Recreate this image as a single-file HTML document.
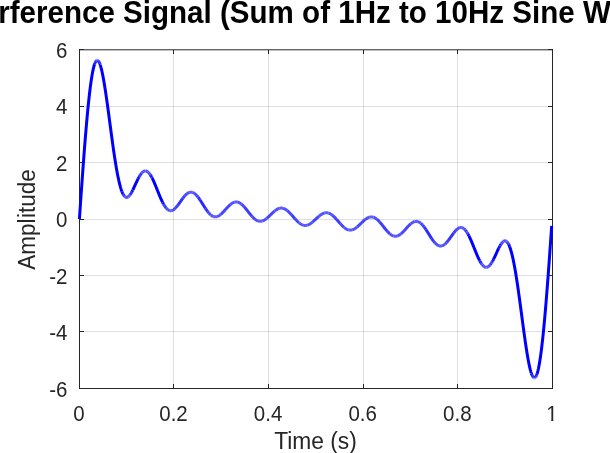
<!DOCTYPE html>
<html><head><meta charset="utf-8"><title>plot</title>
<style>
html,body{margin:0;padding:0;background:#fff;overflow:hidden}
svg{display:block}
text{font-family:"Liberation Sans",sans-serif;fill:#262626}
</style></head><body>
<svg width="610" height="453" viewBox="0 0 610 453">
<rect width="610" height="453" fill="#fff"/>
<g stroke="#262626" stroke-opacity="0.15" stroke-width="1" shape-rendering="crispEdges"><line x1="173.5" y1="49.5" x2="173.5" y2="388.5"/><line x1="268.5" y1="49.5" x2="268.5" y2="388.5"/><line x1="363.5" y1="49.5" x2="363.5" y2="388.5"/><line x1="457.5" y1="49.5" x2="457.5" y2="388.5"/><line x1="79.5" y1="106.5" x2="552.5" y2="106.5"/><line x1="79.5" y1="162.5" x2="552.5" y2="162.5"/><line x1="79.5" y1="219.5" x2="552.5" y2="219.5"/><line x1="79.5" y1="275.5" x2="552.5" y2="275.5"/><line x1="79.5" y1="331.5" x2="552.5" y2="331.5"/></g>
<g stroke="#262626" stroke-width="1" shape-rendering="crispEdges"><line x1="79.5" y1="388.5" x2="79.5" y2="383.8"/><line x1="79.5" y1="49.5" x2="79.5" y2="54.2"/><line x1="173.5" y1="388.5" x2="173.5" y2="383.8"/><line x1="173.5" y1="49.5" x2="173.5" y2="54.2"/><line x1="268.5" y1="388.5" x2="268.5" y2="383.8"/><line x1="268.5" y1="49.5" x2="268.5" y2="54.2"/><line x1="363.5" y1="388.5" x2="363.5" y2="383.8"/><line x1="363.5" y1="49.5" x2="363.5" y2="54.2"/><line x1="457.5" y1="388.5" x2="457.5" y2="383.8"/><line x1="457.5" y1="49.5" x2="457.5" y2="54.2"/><line x1="552.5" y1="388.5" x2="552.5" y2="383.8"/><line x1="552.5" y1="49.5" x2="552.5" y2="54.2"/><line x1="79.5" y1="49.5" x2="84.2" y2="49.5"/><line x1="552.5" y1="49.5" x2="547.8" y2="49.5"/><line x1="79.5" y1="106.5" x2="84.2" y2="106.5"/><line x1="552.5" y1="106.5" x2="547.8" y2="106.5"/><line x1="79.5" y1="162.5" x2="84.2" y2="162.5"/><line x1="552.5" y1="162.5" x2="547.8" y2="162.5"/><line x1="79.5" y1="219.5" x2="84.2" y2="219.5"/><line x1="552.5" y1="219.5" x2="547.8" y2="219.5"/><line x1="79.5" y1="275.5" x2="84.2" y2="275.5"/><line x1="552.5" y1="275.5" x2="547.8" y2="275.5"/><line x1="79.5" y1="331.5" x2="84.2" y2="331.5"/><line x1="552.5" y1="331.5" x2="547.8" y2="331.5"/><line x1="79.5" y1="388.5" x2="84.2" y2="388.5"/><line x1="552.5" y1="388.5" x2="547.8" y2="388.5"/><path d="M79.5 49.0V388.5H552.5V49.0" fill="none"/></g>
<line x1="79.0" y1="49.8" x2="553.0" y2="49.8" stroke="#262626" stroke-width="1"/>
<g fill="none" stroke="#0000ff" stroke-width="3" stroke-linejoin="round" stroke-linecap="butt"><polyline points="79.40,219.10 79.87,212.28 80.35,205.47 80.82,198.70 81.29,191.96 81.76,185.27 82.24,178.65 82.71,172.11 83.18,165.66 83.65,159.31 84.13,153.08 84.60,146.98 85.07,141.01 85.55,135.20 86.02,129.54 86.49,124.06 86.96,118.76 87.44,113.64 87.91,108.73 88.38,104.02 88.86,99.53 89.33,95.25 89.80,91.21 90.27,87.40 90.75,83.82 91.22,80.49 91.69,77.41 92.16,74.58 92.64,72.00 93.11,69.67 93.58,67.61 94.06,65.80 94.53,64.24" stroke-opacity="1.00"/><polyline points="94.53,64.24 95.00,62.95" stroke-opacity="0.96"/><polyline points="95.00,62.95 95.47,61.91" stroke-opacity="0.92"/><polyline points="95.47,61.91 95.95,61.12" stroke-opacity="0.84"/><polyline points="95.95,61.12 96.42,60.58" stroke-opacity="0.80"/><polyline points="96.42,60.58 96.89,60.29" stroke-opacity="0.76"/><polyline points="96.89,60.29 97.36,60.25" stroke-opacity="0.72"/><polyline points="97.36,60.25 97.84,60.44" stroke-opacity="0.76"/><polyline points="97.84,60.44 98.31,60.87" stroke-opacity="0.80"/><polyline points="98.31,60.87 98.78,61.53" stroke-opacity="0.84"/><polyline points="98.78,61.53 99.26,62.42" stroke-opacity="0.88"/><polyline points="99.26,62.42 99.73,63.52" stroke-opacity="0.92"/><polyline points="99.73,63.52 100.20,64.83" stroke-opacity="0.96"/><polyline points="100.20,64.83 100.67,66.34 101.15,68.05 101.62,69.95 102.09,72.02 102.56,74.26 103.04,76.66 103.51,79.21 103.98,81.91 104.46,84.73 104.93,87.67 105.40,90.72 105.87,93.87 106.35,97.11 106.82,100.43 107.29,103.82 107.77,107.26 108.24,110.74 108.71,114.27 109.18,117.81 109.66,121.37 110.13,124.94 110.60,128.50 111.07,132.04 111.55,135.56 112.02,139.04 112.49,142.48 112.97,145.86 113.44,149.19 113.91,152.44 114.38,155.62 114.86,158.72 115.33,161.73 115.80,164.63 116.27,167.44 116.75,170.14 117.22,172.73 117.69,175.20 118.17,177.54 118.64,179.76 119.11,181.86 119.58,183.82 120.06,185.65 120.53,187.35 121.00,188.91 121.47,190.34 121.95,191.63" stroke-opacity="1.00"/><polyline points="121.95,191.63 122.42,192.79 122.89,193.81" stroke-opacity="0.96"/><polyline points="122.89,193.81 123.37,194.70" stroke-opacity="0.92"/><polyline points="123.37,194.70 123.84,195.46" stroke-opacity="0.88"/><polyline points="123.84,195.46 124.31,196.09" stroke-opacity="0.84"/><polyline points="124.31,196.09 124.78,196.59" stroke-opacity="0.76"/><polyline points="124.78,196.59 125.26,196.97" stroke-opacity="0.72"/><polyline points="125.26,196.97 125.73,197.23 126.20,197.37 126.68,197.40 127.15,197.33 127.62,197.15 128.09,196.87" stroke-opacity="0.68"/><polyline points="128.09,196.87 128.57,196.50 129.04,196.04" stroke-opacity="0.72"/><polyline points="129.04,196.04 129.51,195.50" stroke-opacity="0.76"/><polyline points="129.51,195.50 129.98,194.89" stroke-opacity="0.80"/><polyline points="129.98,194.89 130.46,194.20" stroke-opacity="0.84"/><polyline points="130.46,194.20 130.93,193.46 131.40,192.65" stroke-opacity="0.88"/><polyline points="131.40,192.65 131.88,191.80" stroke-opacity="0.92"/><polyline points="131.88,191.80 132.35,190.90 132.82,189.96" stroke-opacity="0.96"/><polyline points="132.82,189.96 133.29,188.99 133.77,187.99 134.24,186.98 134.71,185.95 135.18,184.92 135.66,183.88 136.13,182.86 136.60,181.84 137.08,180.84 137.55,179.87 138.02,178.92" stroke-opacity="1.00"/><polyline points="138.02,178.92 138.49,178.01 138.97,177.13" stroke-opacity="0.96"/><polyline points="138.97,177.13 139.44,176.30" stroke-opacity="0.92"/><polyline points="139.44,176.30 139.91,175.52" stroke-opacity="0.88"/><polyline points="139.91,175.52 140.38,174.78" stroke-opacity="0.84"/><polyline points="140.38,174.78 140.86,174.10 141.33,173.48" stroke-opacity="0.80"/><polyline points="141.33,173.48 141.80,172.92" stroke-opacity="0.76"/><polyline points="141.80,172.92 142.28,172.42 142.75,171.99 143.22,171.63" stroke-opacity="0.72"/><polyline points="143.22,171.63 143.69,171.33 144.17,171.11 144.64,170.96 145.11,170.89" stroke-opacity="0.68"/><polyline points="145.11,170.89 145.59,170.89" stroke-opacity="0.64"/><polyline points="145.59,170.89 146.06,170.96 146.53,171.11 147.00,171.33 147.48,171.63" stroke-opacity="0.68"/><polyline points="147.48,171.63 147.95,171.99 148.42,172.43" stroke-opacity="0.72"/><polyline points="148.42,172.43 148.89,172.93 149.37,173.50" stroke-opacity="0.76"/><polyline points="149.37,173.50 149.84,174.13" stroke-opacity="0.80"/><polyline points="149.84,174.13 150.31,174.82" stroke-opacity="0.84"/><polyline points="150.31,174.82 150.79,175.58" stroke-opacity="0.88"/><polyline points="150.79,175.58 151.26,176.38 151.73,177.24" stroke-opacity="0.92"/><polyline points="151.73,177.24 152.20,178.15" stroke-opacity="0.96"/><polyline points="152.20,178.15 152.68,179.11 153.15,180.10 153.62,181.14 154.09,182.20 154.57,183.30 155.04,184.42 155.51,185.57 155.99,186.73 156.46,187.90 156.93,189.08 157.40,190.26 157.88,191.45 158.35,192.63 158.82,193.80 159.29,194.96 159.77,196.10 160.24,197.21 160.71,198.31 161.19,199.37 161.66,200.41 162.13,201.40 162.60,202.36" stroke-opacity="1.00"/><polyline points="162.60,202.36 163.08,203.28 163.55,204.15" stroke-opacity="0.96"/><polyline points="163.55,204.15 164.02,204.98" stroke-opacity="0.92"/><polyline points="164.02,204.98 164.50,205.76" stroke-opacity="0.88"/><polyline points="164.50,205.76 164.97,206.48" stroke-opacity="0.84"/><polyline points="164.97,206.48 165.44,207.15 165.91,207.77" stroke-opacity="0.80"/><polyline points="165.91,207.77 166.39,208.33" stroke-opacity="0.76"/><polyline points="166.39,208.33 166.86,208.83 167.33,209.27 167.80,209.66" stroke-opacity="0.72"/><polyline points="167.80,209.66 168.28,209.98 168.75,210.24 169.22,210.45 169.70,210.59" stroke-opacity="0.68"/><polyline points="169.70,210.59 170.17,210.68 170.64,210.71 171.11,210.68 171.59,210.60" stroke-opacity="0.64"/><polyline points="171.59,210.60 172.06,210.46 172.53,210.27 173.00,210.02 173.48,209.73 173.95,209.40 174.42,209.02" stroke-opacity="0.68"/><polyline points="174.42,209.02 174.90,208.59 175.37,208.13 175.84,207.64" stroke-opacity="0.72"/><polyline points="175.84,207.64 176.31,207.11 176.79,206.55 177.26,205.97 177.73,205.36" stroke-opacity="0.76"/><polyline points="177.73,205.36 178.20,204.74 178.68,204.10 179.15,203.44 179.62,202.78 180.10,202.11 180.57,201.44 181.04,200.77 181.51,200.10 181.99,199.44 182.46,198.80 182.93,198.16" stroke-opacity="0.80"/><polyline points="182.93,198.16 183.41,197.55 183.88,196.96 184.35,196.39 184.82,195.84" stroke-opacity="0.76"/><polyline points="184.82,195.84 185.30,195.33 185.77,194.85 186.24,194.40 186.71,193.98" stroke-opacity="0.72"/><polyline points="186.71,193.98 187.19,193.61 187.66,193.27 188.13,192.98 188.61,192.73 189.08,192.52 189.55,192.36" stroke-opacity="0.68"/><polyline points="189.55,192.36 190.02,192.24 190.50,192.18 190.97,192.15 191.44,192.18 191.91,192.25 192.39,192.37" stroke-opacity="0.64"/><polyline points="192.39,192.37 192.86,192.54 193.33,192.75 193.81,193.01 194.28,193.31 194.75,193.65" stroke-opacity="0.68"/><polyline points="194.75,193.65 195.22,194.04 195.70,194.47 196.17,194.93 196.64,195.43" stroke-opacity="0.72"/><polyline points="196.64,195.43 197.11,195.97 197.59,196.54 198.06,197.14" stroke-opacity="0.76"/><polyline points="198.06,197.14 198.53,197.77 199.01,198.42 199.48,199.10 199.95,199.79" stroke-opacity="0.80"/><polyline points="199.95,199.79 200.42,200.50 200.90,201.23 201.37,201.97 201.84,202.72 202.31,203.47 202.79,204.23 203.26,204.99 203.73,205.74 204.21,206.49 204.68,207.23 205.15,207.96 205.62,208.68" stroke-opacity="0.84"/><polyline points="205.62,208.68 206.10,209.38 206.57,210.06 207.04,210.71 207.52,211.35" stroke-opacity="0.80"/><polyline points="207.52,211.35 207.99,211.96 208.46,212.54 208.93,213.08" stroke-opacity="0.76"/><polyline points="208.93,213.08 209.41,213.60 209.88,214.08 210.35,214.53 210.82,214.94" stroke-opacity="0.72"/><polyline points="210.82,214.94 211.30,215.31 211.77,215.65 212.24,215.94 212.72,216.19 213.19,216.40 213.66,216.57" stroke-opacity="0.68"/><polyline points="213.66,216.57 214.13,216.70 214.61,216.78 215.08,216.82 215.55,216.83 216.02,216.79 216.50,216.71 216.97,216.59" stroke-opacity="0.64"/><polyline points="216.97,216.59 217.44,216.43 217.92,216.24 218.39,216.01 218.86,215.75 219.33,215.45 219.81,215.12 220.28,214.77 220.75,214.39" stroke-opacity="0.68"/><polyline points="220.75,214.39 221.22,213.98 221.70,213.55 222.17,213.10 222.64,212.63 223.12,212.14 223.59,211.64 224.06,211.14 224.53,210.62 225.01,210.10 225.48,209.57 225.95,209.05 226.43,208.52 226.90,208.01 227.37,207.49 227.84,206.99 228.32,206.50 228.79,206.03 229.26,205.57 229.73,205.13 230.21,204.71 230.68,204.32" stroke-opacity="0.72"/><polyline points="230.68,204.32 231.15,203.95 231.63,203.61 232.10,203.29 232.57,203.01 233.04,202.76 233.52,202.54 233.99,202.35 234.46,202.20" stroke-opacity="0.68"/><polyline points="234.46,202.20 234.93,202.08 235.41,202.00 235.88,201.96 236.35,201.95 236.83,201.99 237.30,202.05 237.77,202.16" stroke-opacity="0.64"/><polyline points="237.77,202.16 238.24,202.30 238.72,202.48 239.19,202.69 239.66,202.94 240.14,203.22 240.61,203.54 241.08,203.88 241.55,204.26" stroke-opacity="0.68"/><polyline points="241.55,204.26 242.03,204.67 242.50,205.10 242.97,205.56 243.44,206.04 243.92,206.54" stroke-opacity="0.72"/><polyline points="243.92,206.54 244.39,207.06 244.86,207.61 245.34,208.16 245.81,208.73 246.28,209.31 246.75,209.90 247.23,210.50 247.70,211.09 248.17,211.70 248.64,212.30 249.12,212.89 249.59,213.49 250.06,214.07 250.54,214.65 251.01,215.21 251.48,215.76 251.95,216.29" stroke-opacity="0.76"/><polyline points="251.95,216.29 252.43,216.80 252.90,217.29 253.37,217.77 253.84,218.21 254.32,218.63 254.79,219.03" stroke-opacity="0.72"/><polyline points="254.79,219.03 255.26,219.39 255.74,219.73 256.21,220.04 256.68,220.31 257.15,220.55 257.63,220.76 258.10,220.93" stroke-opacity="0.68"/><polyline points="258.10,220.93 258.57,221.07 259.05,221.17 259.52,221.24 259.99,221.28 260.46,221.28 260.94,221.24 261.41,221.18 261.88,221.07 262.35,220.94" stroke-opacity="0.64"/><polyline points="262.35,220.94 262.83,220.77 263.30,220.58 263.77,220.35 264.25,220.10 264.72,219.82 265.19,219.51 265.66,219.18 266.14,218.83 266.61,218.46" stroke-opacity="0.68"/><polyline points="266.61,218.46 267.08,218.07 267.55,217.66 268.03,217.24 268.50,216.81 268.97,216.37 269.45,215.92 269.92,215.46 270.39,215.00 270.86,214.54 271.34,214.08 271.81,213.62 272.28,213.17 272.75,212.72 273.23,212.29 273.70,211.86 274.17,211.46 274.65,211.06" stroke-opacity="0.72"/><polyline points="274.65,211.06 275.12,210.69 275.59,210.33 276.06,209.99 276.54,209.68 277.01,209.39 277.48,209.13 277.96,208.90 278.43,208.69 278.90,208.51 279.37,208.36" stroke-opacity="0.68"/><polyline points="279.37,208.36 279.85,208.25 280.32,208.16 280.79,208.11 281.26,208.09 281.74,208.11 282.21,208.15 282.68,208.23 283.16,208.34" stroke-opacity="0.64"/><polyline points="283.16,208.34 283.63,208.49 284.10,208.67 284.57,208.87 285.05,209.11 285.52,209.38 285.99,209.68 286.46,210.01 286.94,210.36 287.41,210.74" stroke-opacity="0.68"/><polyline points="287.41,210.74 287.88,211.14 288.36,211.56 288.83,212.00 289.30,212.47 289.77,212.94 290.25,213.44 290.72,213.95 291.19,214.46" stroke-opacity="0.72"/><polyline points="291.19,214.46 291.66,214.99 292.14,215.53 292.61,216.07 293.08,216.61 293.56,217.15 294.03,217.69 294.50,218.23 294.97,218.76" stroke-opacity="0.76"/><polyline points="294.97,218.76 295.45,219.28 295.92,219.80 296.39,220.30 296.87,220.78 297.34,221.26 297.81,221.71 298.28,222.14 298.76,222.56 299.23,222.95" stroke-opacity="0.72"/><polyline points="299.23,222.95 299.70,223.31 300.17,223.65 300.65,223.97 301.12,224.25 301.59,224.51 302.07,224.74 302.54,224.93 303.01,225.10" stroke-opacity="0.68"/><polyline points="303.01,225.10 303.48,225.23 303.96,225.34 304.43,225.40 304.90,225.44 305.37,225.45 305.85,225.42 306.32,225.36 306.79,225.27 307.27,225.15" stroke-opacity="0.64"/><polyline points="307.27,225.15 307.74,224.99 308.21,224.81 308.68,224.60 309.16,224.37 309.63,224.11 310.10,223.82 310.57,223.51 311.05,223.18 311.52,222.83 311.99,222.46 312.47,222.08" stroke-opacity="0.68"/><polyline points="312.47,222.08 312.94,221.68 313.41,221.27 313.88,220.85 314.36,220.42 314.83,219.98 315.30,219.54 315.77,219.10 316.25,218.66 316.72,218.22 317.19,217.78 317.67,217.35 318.14,216.93 318.61,216.52 319.08,216.12" stroke-opacity="0.72"/><polyline points="319.08,216.12 319.56,215.74 320.03,215.37 320.50,215.02 320.98,214.69 321.45,214.38 321.92,214.09 322.39,213.83 322.87,213.60 323.34,213.39 323.81,213.21 324.28,213.05" stroke-opacity="0.68"/><polyline points="324.28,213.05 324.76,212.93 325.23,212.84 325.70,212.78 326.18,212.75 326.65,212.76 327.12,212.80 327.59,212.86 328.07,212.97 328.54,213.10" stroke-opacity="0.64"/><polyline points="328.54,213.10 329.01,213.27 329.48,213.46 329.96,213.69 330.43,213.95 330.90,214.23 331.38,214.55 331.85,214.89 332.32,215.25" stroke-opacity="0.68"/><polyline points="332.32,215.25 332.79,215.64 333.27,216.06 333.74,216.49 334.21,216.94 334.69,217.42 335.16,217.90 335.63,218.40 336.10,218.92 336.58,219.44" stroke-opacity="0.72"/><polyline points="336.58,219.44 337.05,219.97 337.52,220.51 337.99,221.05 338.47,221.59 338.94,222.13 339.41,222.67 339.89,223.21 340.36,223.74" stroke-opacity="0.76"/><polyline points="340.36,223.74 340.83,224.25 341.30,224.76 341.78,225.26 342.25,225.73 342.72,226.20 343.19,226.64 343.67,227.06 344.14,227.46" stroke-opacity="0.72"/><polyline points="344.14,227.46 344.61,227.84 345.09,228.19 345.56,228.52 346.03,228.82 346.50,229.09 346.98,229.33 347.45,229.53 347.92,229.71 348.39,229.86" stroke-opacity="0.68"/><polyline points="348.39,229.86 348.87,229.97 349.34,230.05 349.81,230.09 350.29,230.11 350.76,230.09 351.23,230.04 351.70,229.95 352.18,229.84" stroke-opacity="0.64"/><polyline points="352.18,229.84 352.65,229.69 353.12,229.51 353.60,229.30 354.07,229.07 354.54,228.81 355.01,228.52 355.49,228.21 355.96,227.87 356.43,227.51 356.90,227.14" stroke-opacity="0.68"/><polyline points="356.90,227.14 357.38,226.74 357.85,226.34 358.32,225.91 358.80,225.48 359.27,225.03 359.74,224.58 360.21,224.12 360.69,223.66 361.16,223.20 361.63,222.74 362.10,222.28 362.58,221.83 363.05,221.39 363.52,220.96 364.00,220.54 364.47,220.13 364.94,219.74" stroke-opacity="0.72"/><polyline points="364.94,219.74 365.41,219.37 365.89,219.02 366.36,218.69 366.83,218.38 367.30,218.10 367.78,217.85 368.25,217.62 368.72,217.43 369.20,217.26" stroke-opacity="0.68"/><polyline points="369.20,217.26 369.67,217.13 370.14,217.02 370.61,216.96 371.09,216.92 371.56,216.92 372.03,216.96 372.50,217.03 372.98,217.13 373.45,217.27" stroke-opacity="0.64"/><polyline points="373.45,217.27 373.92,217.44 374.40,217.65 374.87,217.89 375.34,218.16 375.81,218.47 376.29,218.81 376.76,219.17" stroke-opacity="0.68"/><polyline points="376.76,219.17 377.23,219.57 377.71,219.99 378.18,220.43 378.65,220.91 379.12,221.40 379.60,221.91" stroke-opacity="0.72"/><polyline points="379.60,221.91 380.07,222.44 380.54,222.99 381.01,223.55 381.49,224.13 381.96,224.71 382.43,225.31 382.91,225.90 383.38,226.50 383.85,227.11 384.32,227.70 384.80,228.30 385.27,228.89 385.74,229.47 386.21,230.04 386.69,230.59 387.16,231.14 387.63,231.66" stroke-opacity="0.76"/><polyline points="387.63,231.66 388.11,232.16 388.58,232.64 389.05,233.10 389.52,233.53 390.00,233.94" stroke-opacity="0.72"/><polyline points="390.00,233.94 390.47,234.32 390.94,234.66 391.41,234.98 391.89,235.26 392.36,235.51 392.83,235.72 393.31,235.90 393.78,236.04" stroke-opacity="0.68"/><polyline points="393.78,236.04 394.25,236.15 394.72,236.21 395.20,236.25 395.67,236.24 396.14,236.20 396.62,236.12 397.09,236.00" stroke-opacity="0.64"/><polyline points="397.09,236.00 397.56,235.85 398.03,235.66 398.51,235.44 398.98,235.19 399.45,234.91 399.92,234.59 400.40,234.25 400.87,233.88" stroke-opacity="0.68"/><polyline points="400.87,233.88 401.34,233.49 401.82,233.07 402.29,232.63 402.76,232.17 403.23,231.70 403.71,231.21 404.18,230.71 404.65,230.19 405.12,229.68 405.60,229.15 406.07,228.63 406.54,228.10 407.02,227.58 407.49,227.06 407.96,226.56 408.43,226.06 408.91,225.57 409.38,225.10 409.85,224.65 410.33,224.22 410.80,223.81" stroke-opacity="0.72"/><polyline points="410.80,223.81 411.27,223.43 411.74,223.08 412.22,222.75 412.69,222.45 413.16,222.19 413.63,221.96 414.11,221.77 414.58,221.61" stroke-opacity="0.68"/><polyline points="414.58,221.61 415.05,221.49 415.53,221.41 416.00,221.37 416.47,221.38 416.94,221.42 417.42,221.50 417.89,221.63" stroke-opacity="0.64"/><polyline points="417.89,221.63 418.36,221.80 418.83,222.01 419.31,222.26 419.78,222.55 420.25,222.89 420.73,223.26" stroke-opacity="0.68"/><polyline points="420.73,223.26 421.20,223.67 421.67,224.12 422.14,224.60 422.62,225.12" stroke-opacity="0.72"/><polyline points="422.62,225.12 423.09,225.66 423.56,226.24 424.03,226.85" stroke-opacity="0.76"/><polyline points="424.03,226.85 424.51,227.49 424.98,228.14 425.45,228.82 425.93,229.52" stroke-opacity="0.80"/><polyline points="425.93,229.52 426.40,230.24 426.87,230.97 427.34,231.71 427.82,232.46 428.29,233.21 428.76,233.97 429.24,234.73 429.71,235.48 430.18,236.23 430.65,236.97 431.13,237.70 431.60,238.41" stroke-opacity="0.84"/><polyline points="431.60,238.41 432.07,239.10 432.54,239.78 433.02,240.43 433.49,241.06" stroke-opacity="0.80"/><polyline points="433.49,241.06 433.96,241.66 434.44,242.23 434.91,242.77" stroke-opacity="0.76"/><polyline points="434.91,242.77 435.38,243.27 435.85,243.73 436.33,244.16 436.80,244.55" stroke-opacity="0.72"/><polyline points="436.80,244.55 437.27,244.89 437.74,245.19 438.22,245.45 438.69,245.66 439.16,245.83" stroke-opacity="0.68"/><polyline points="439.16,245.83 439.64,245.95 440.11,246.02 440.58,246.05 441.05,246.02 441.53,245.96 442.00,245.84" stroke-opacity="0.64"/><polyline points="442.00,245.84 442.47,245.68 442.94,245.47 443.42,245.22 443.89,244.93 444.36,244.59 444.84,244.22" stroke-opacity="0.68"/><polyline points="444.84,244.22 445.31,243.80 445.78,243.35 446.25,242.87 446.73,242.36" stroke-opacity="0.72"/><polyline points="446.73,242.36 447.20,241.81 447.67,241.24 448.14,240.65 448.62,240.04" stroke-opacity="0.76"/><polyline points="448.62,240.04 449.09,239.40 449.56,238.76 450.04,238.10 450.51,237.43 450.98,236.76 451.45,236.09 451.93,235.42 452.40,234.76 452.87,234.10 453.35,233.46 453.82,232.84" stroke-opacity="0.80"/><polyline points="453.82,232.84 454.29,232.23 454.76,231.65 455.24,231.09 455.71,230.56" stroke-opacity="0.76"/><polyline points="455.71,230.56 456.18,230.07 456.65,229.61 457.13,229.18" stroke-opacity="0.72"/><polyline points="457.13,229.18 457.60,228.80 458.07,228.47 458.55,228.18 459.02,227.93 459.49,227.74 459.96,227.60" stroke-opacity="0.68"/><polyline points="459.96,227.60 460.44,227.52 460.91,227.49 461.38,227.52 461.85,227.61" stroke-opacity="0.64"/><polyline points="461.85,227.61 462.33,227.75 462.80,227.96 463.27,228.22 463.75,228.54" stroke-opacity="0.68"/><polyline points="463.75,228.54 464.22,228.93 464.69,229.37 465.16,229.87" stroke-opacity="0.72"/><polyline points="465.16,229.87 465.64,230.43" stroke-opacity="0.76"/><polyline points="465.64,230.43 466.11,231.05 466.58,231.72" stroke-opacity="0.80"/><polyline points="466.58,231.72 467.06,232.44" stroke-opacity="0.84"/><polyline points="467.06,232.44 467.53,233.22" stroke-opacity="0.88"/><polyline points="467.53,233.22 468.00,234.05" stroke-opacity="0.92"/><polyline points="468.00,234.05 468.47,234.92 468.95,235.84" stroke-opacity="0.96"/><polyline points="468.95,235.84 469.42,236.80 469.89,237.79 470.36,238.83 470.84,239.89 471.31,240.99 471.78,242.10 472.26,243.24 472.73,244.40 473.20,245.57 473.67,246.75 474.15,247.94 474.62,249.12 475.09,250.30 475.56,251.47 476.04,252.63 476.51,253.78 476.98,254.90 477.46,256.00 477.93,257.06 478.40,258.10 478.87,259.09 479.35,260.05" stroke-opacity="1.00"/><polyline points="479.35,260.05 479.82,260.96" stroke-opacity="0.96"/><polyline points="479.82,260.96 480.29,261.82 480.76,262.62" stroke-opacity="0.92"/><polyline points="480.76,262.62 481.24,263.38" stroke-opacity="0.88"/><polyline points="481.24,263.38 481.71,264.07" stroke-opacity="0.84"/><polyline points="481.71,264.07 482.18,264.70" stroke-opacity="0.80"/><polyline points="482.18,264.70 482.66,265.27 483.13,265.77" stroke-opacity="0.76"/><polyline points="483.13,265.77 483.60,266.21 484.07,266.57" stroke-opacity="0.72"/><polyline points="484.07,266.57 484.55,266.87 485.02,267.09 485.49,267.24 485.97,267.31" stroke-opacity="0.68"/><polyline points="485.97,267.31 486.44,267.31" stroke-opacity="0.64"/><polyline points="486.44,267.31 486.91,267.24 487.38,267.09 487.86,266.87 488.33,266.57" stroke-opacity="0.68"/><polyline points="488.33,266.57 488.80,266.21 489.27,265.78 489.75,265.28" stroke-opacity="0.72"/><polyline points="489.75,265.28 490.22,264.72" stroke-opacity="0.76"/><polyline points="490.22,264.72 490.69,264.10 491.17,263.42" stroke-opacity="0.80"/><polyline points="491.17,263.42 491.64,262.68" stroke-opacity="0.84"/><polyline points="491.64,262.68 492.11,261.90" stroke-opacity="0.88"/><polyline points="492.11,261.90 492.58,261.07" stroke-opacity="0.92"/><polyline points="492.58,261.07 493.06,260.19 493.53,259.28" stroke-opacity="0.96"/><polyline points="493.53,259.28 494.00,258.33 494.47,257.36 494.95,256.36 495.42,255.34 495.89,254.32 496.37,253.28 496.84,252.25 497.31,251.22 497.78,250.21 498.26,249.21 498.73,248.24" stroke-opacity="1.00"/><polyline points="498.73,248.24 499.20,247.30 499.67,246.40" stroke-opacity="0.96"/><polyline points="499.67,246.40 500.15,245.55" stroke-opacity="0.92"/><polyline points="500.15,245.55 500.62,244.74 501.09,244.00" stroke-opacity="0.88"/><polyline points="501.09,244.00 501.57,243.31" stroke-opacity="0.84"/><polyline points="501.57,243.31 502.04,242.70" stroke-opacity="0.80"/><polyline points="502.04,242.70 502.51,242.16" stroke-opacity="0.76"/><polyline points="502.51,242.16 502.98,241.70 503.46,241.33" stroke-opacity="0.72"/><polyline points="503.46,241.33 503.93,241.05 504.40,240.87 504.88,240.80 505.35,240.83 505.82,240.97 506.29,241.23" stroke-opacity="0.68"/><polyline points="506.29,241.23 506.77,241.61" stroke-opacity="0.72"/><polyline points="506.77,241.61 507.24,242.11" stroke-opacity="0.76"/><polyline points="507.24,242.11 507.71,242.74" stroke-opacity="0.84"/><polyline points="507.71,242.74 508.18,243.50" stroke-opacity="0.88"/><polyline points="508.18,243.50 508.66,244.39" stroke-opacity="0.92"/><polyline points="508.66,244.39 509.13,245.41 509.60,246.57" stroke-opacity="0.96"/><polyline points="509.60,246.57 510.08,247.86 510.55,249.29 511.02,250.85 511.49,252.55 511.97,254.38 512.44,256.34 512.91,258.44 513.38,260.66 513.86,263.00 514.33,265.47 514.80,268.06 515.28,270.76 515.75,273.57 516.22,276.47 516.69,279.48 517.17,282.58 517.64,285.76 518.11,289.01 518.58,292.34 519.06,295.72 519.53,299.16 520.00,302.64 520.48,306.16 520.95,309.70 521.42,313.26 521.89,316.83 522.37,320.39 522.84,323.93 523.31,327.46 523.79,330.94 524.26,334.38 524.73,337.77 525.20,341.09 525.68,344.33 526.15,347.48 526.62,350.53 527.09,353.47 527.57,356.29 528.04,358.99 528.51,361.54 528.99,363.94 529.46,366.18 529.93,368.25 530.40,370.15 530.88,371.86 531.35,373.37" stroke-opacity="1.00"/><polyline points="531.35,373.37 531.82,374.68" stroke-opacity="0.96"/><polyline points="531.82,374.68 532.29,375.78" stroke-opacity="0.92"/><polyline points="532.29,375.78 532.77,376.67" stroke-opacity="0.88"/><polyline points="532.77,376.67 533.24,377.33" stroke-opacity="0.84"/><polyline points="533.24,377.33 533.71,377.76" stroke-opacity="0.80"/><polyline points="533.71,377.76 534.19,377.95" stroke-opacity="0.76"/><polyline points="534.19,377.95 534.66,377.91" stroke-opacity="0.72"/><polyline points="534.66,377.91 535.13,377.62" stroke-opacity="0.76"/><polyline points="535.13,377.62 535.60,377.08" stroke-opacity="0.80"/><polyline points="535.60,377.08 536.08,376.29" stroke-opacity="0.84"/><polyline points="536.08,376.29 536.55,375.25" stroke-opacity="0.92"/><polyline points="536.55,375.25 537.02,373.96" stroke-opacity="0.96"/><polyline points="537.02,373.96 537.49,372.40 537.97,370.59 538.44,368.53 538.91,366.20 539.39,363.62 539.86,360.79 540.33,357.71 540.80,354.38 541.28,350.80 541.75,346.99 542.22,342.95 542.70,338.67 543.17,334.18 543.64,329.47 544.11,324.56 544.59,319.44 545.06,314.14 545.53,308.66 546.00,303.00 546.48,297.19 546.95,291.22 547.42,285.12 547.90,278.89 548.37,272.54 548.84,266.09 549.31,259.55 549.79,252.93 550.26,246.24 550.73,239.50 551.20,232.73 551.68,225.92" stroke-opacity="1.00"/></g>
<g font-size="20.5px"><text transform="translate(78.90,421.00) scale(1,1.06)" text-anchor="middle">0</text><text transform="translate(173.50,421.00) scale(1,1.06)" text-anchor="middle">0.2</text><text transform="translate(268.10,421.00) scale(1,1.06)" text-anchor="middle">0.4</text><text transform="translate(362.70,421.00) scale(1,1.06)" text-anchor="middle">0.6</text><text transform="translate(457.30,421.00) scale(1,1.06)" text-anchor="middle">0.8</text><text transform="translate(551.90,421.00) scale(1,1.06)" text-anchor="middle">1</text><text transform="translate(67.50,57.80) scale(1,1.06)" text-anchor="end">6</text><text transform="translate(67.50,114.30) scale(1,1.06)" text-anchor="end">4</text><text transform="translate(67.50,170.80) scale(1,1.06)" text-anchor="end">2</text><text transform="translate(67.50,227.30) scale(1,1.06)" text-anchor="end">0</text><text transform="translate(67.50,283.80) scale(1,1.06)" text-anchor="end">-2</text><text transform="translate(67.50,340.30) scale(1,1.06)" text-anchor="end">-4</text><text transform="translate(67.50,396.80) scale(1,1.06)" text-anchor="end">-6</text></g>
<rect x="546" y="418.6" width="5.25" height="3.4" fill="#fff"/><rect x="553.3" y="418.6" width="5" height="3.4" fill="#fff"/>
<text transform="translate(315.5,449.3) scale(1,1.07)" text-anchor="middle" font-size="22.8px">Time (s)</text>
<text transform="translate(34.8,219.45) rotate(-90) scale(1,1.05)" text-anchor="middle" font-size="22.43px">Ampl<tspan dx="0.7">itude</tspan></text>
<text transform="translate(315.5,22.9) scale(1,1.04)" text-anchor="middle" font-size="29.57px" font-weight="bold" style="fill:#000">Interference Signal (Sum of 1Hz to 10Hz Sine Waves)</text>
</svg>
</body></html>
